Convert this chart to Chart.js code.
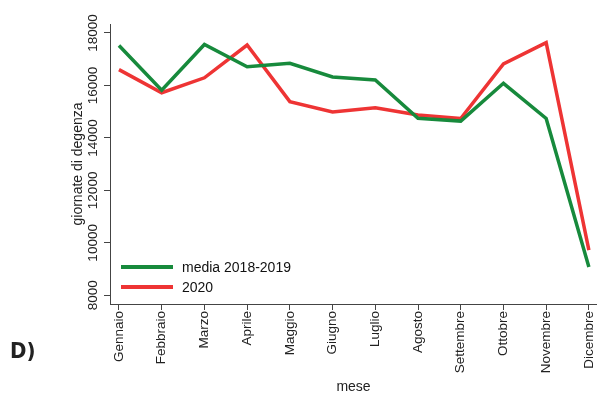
<!DOCTYPE html>
<html>
<head>
<meta charset="utf-8">
<script src="https://cdn.jsdelivr.net/npm/chart.js@4.4.1/dist/chart.umd.min.js"></script>
<style>
  html, body { margin: 0; padding: 0; background: #fff; }
  #wrap { width: 597px; height: 396px; position: relative; }
</style>
</head>
<body>
<div id="wrap"><canvas id="grafico"></canvas></div>
<script>
// mesi e giornate di degenza
const mesi = ["Gennaio","Febbraio","Marzo","Aprile","Maggio","Giugno","Luglio","Agosto","Settembre","Ottobre","Novembre","Dicembre"];
const media1819 = [17520, 15820, 17560, 16710, 16840, 16320, 16210, 14750, 14640, 16080, 14740, 9080];
const anno2020 = [16600, 15720, 16290, 17540, 15380, 14990, 15150, 14870, 14740, 16820, 17630, 9720];
const yTicks = [8000, 10000, 12000, 14000, 16000, 18000];

const VERDE = "#178a3c";
const ROSSO = "#ee3434";
const FONT = "'Liberation Sans', Arial, sans-serif";

const toPoints = (arr) => arr.map((v, i) => ({ x: i, y: v }));

// etichette y ruotate, titolo y, legenda e "D)"
const decorazioni = {
    id: "decorazioni",
    afterDraw(chart) {
        const ctx = chart.ctx;
        const y = chart.scales.y;
        ctx.save();
        ctx.fillStyle = "#222";
        ctx.textAlign = "center";
        ctx.textBaseline = "middle";

        ctx.font = "13.5px " + FONT;
        yTicks.forEach(v => {
            const py = y.getPixelForValue(v);
            ctx.save();
            ctx.translate(93, py);
            ctx.rotate(-Math.PI / 2);
            ctx.fillText(String(v), 0, 0);
            ctx.restore();
        });

        ctx.font = "14px " + FONT;
        ctx.save();
        ctx.translate(78, (chart.chartArea.top + chart.chartArea.bottom) / 2);
        ctx.rotate(-Math.PI / 2);
        ctx.fillText("giornate di degenza", 0, 0);
        ctx.restore();

        // legenda
        const voci = [
            { label: "media 2018-2019", color: VERDE, y: 267 },
            { label: "2020", color: ROSSO, y: 287 }
        ];
        ctx.textAlign = "left";
        ctx.font = "14px " + FONT;
        voci.forEach(v => {
            ctx.strokeStyle = v.color;
            ctx.lineWidth = 4;
            ctx.beginPath();
            ctx.moveTo(121, v.y);
            ctx.lineTo(173, v.y);
            ctx.stroke();
            ctx.fillStyle = "#111";
            ctx.fillText(v.label, 182, v.y + 1);
        });

        ctx.font = "bold 22px 'DejaVu Sans Condensed', 'DejaVu Sans', sans-serif";
        ctx.fillStyle = "#222";
        ctx.fillText("D)", 10, 352);
        ctx.restore();
    }
};

new Chart(document.getElementById("grafico"), {
    type: "line",
    data: {
        datasets: [
            {
                label: "media 2018-2019",
                data: toPoints(media1819),
                borderColor: VERDE,
                borderWidth: 3.5,
                pointRadius: 0,
                tension: 0,
                fill: false
            },
            {
                label: "2020",
                data: toPoints(anno2020),
                borderColor: ROSSO,
                borderWidth: 3.5,
                pointRadius: 0,
                tension: 0,
                fill: false
            }
        ]
    },
    options: {
        responsive: true,
        maintainAspectRatio: false,
        animation: false,
        layout: { padding: { top: 24, left: 0, right: 0, bottom: 0 } },
        plugins: {
            legend: { display: false },
            tooltip: { enabled: false }
        },
        scales: {
            x: {
                type: "linear",
                min: -0.21,
                max: 11.19,
                afterBuildTicks: (s) => { s.ticks = mesi.map((_, i) => ({ value: i })); },
                afterFit: (s) => {
                    s.height = 92;
                    s.paddingLeft = 0;
                    s.paddingRight = 0;
                },
                border: { display: true, color: "#444", width: 1 },
                grid: { drawOnChartArea: false, drawTicks: true, tickLength: 6, color: "#444" },
                ticks: {
                    autoSkip: false,
                    minRotation: 90,
                    maxRotation: 90,
                    padding: 1,
                    color: "#222",
                    font: { family: FONT, size: 13.5 },
                    callback: (v) => mesi[v]
                },
                title: {
                    display: true,
                    text: "mese",
                    color: "#222",
                    font: { family: FONT, size: 14 },
                    padding: { top: 0, bottom: 0 }
                }
            },
            y: {
                min: 7670,
                max: 18340,
                afterBuildTicks: (s) => { s.ticks = yTicks.map(v => ({ value: v })); },
                afterFit: (s) => {
                    s.width = 110;
                    s.paddingTop = 0;
                    s.paddingBottom = 0;
                },
                border: { display: true, color: "#444", width: 1 },
                grid: { drawOnChartArea: false, drawTicks: true, tickLength: 6, color: "#444" },
                ticks: { display: false }
            }
        }
    },
    plugins: [decorazioni]
});
</script>
</body>
</html>
